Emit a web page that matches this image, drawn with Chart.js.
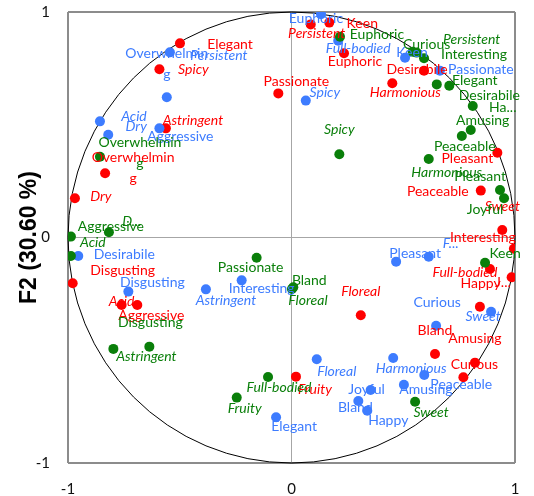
<!DOCTYPE html>
<html>
<head>
<meta charset="utf-8">
<script src="https://cdn.jsdelivr.net/npm/chart.js@4"></script>
<style>
  body { margin: 0; background: #fff; }
  #wrap { width: 534px; height: 496px; }
</style>
</head>
<body>
<div id="wrap"><canvas id="circleChart" width="534" height="496"></canvas></div>
<script>
// Attributes, same order for every group
const attributes = [
  "Overwhelming", "Elegant", "Persistent", "Spicy", "Acid", "Dry", "Astringent",
  "Aggressive", "Passionate", "Euphoric", "Keen", "Full-bodied", "Curious",
  "Interesting", "Desirabile", "Harmonious", "Amusing", "Peaceable", "Pleasant",
  "Joyful", "Sweet", "Happy", "Floreal", "Fruity", "Bland", "Disgusting",
];

// Sensory attributes are labelled in italics
const sensory = ["Persistent", "Spicy", "Acid", "Dry", "Astringent", "Full-bodied",
  "Harmonious", "Sweet", "Floreal", "Fruity"];

const redF1 = [-0.834, -0.499, 0.086, -0.591, -0.76, -0.969, -0.562, -0.69, -0.059, 0.235, 0.169, 0.888, 0.769,
  0.995, 0.593, 0.451, 0.821, 0.847, 0.921, 0.843, 0.943, 0.985, 0.31, 0.02, 0.642, -0.979];
const redF2 = [0.285, 0.861, 0.945, 0.746, -0.299, 0.174, 0.484, -0.299, 0.639, 0.817, 0.953, -0.14, -0.62,
  -0.05, 0.74, 0.684, -0.555, 0.208, 0.376, -0.307, 0.033, -0.176, -0.345, -0.617, -0.517, -0.203];

const blueF1 = [-0.558, -0.069, -0.544, 0.064, -0.857, -0.82, -0.383, -0.591, 0.664, 0.132, 0.508, 0.209, 0.647,
  -0.223, -0.954, 0.455, 0.503, 0.594, 0.468, 0.354, 0.893, 0.339, 0.113, 0.614, 0.299, -0.73];
const blueF2 = [0.622, -0.797, 0.821, 0.607, 0.515, 0.456, -0.23, 0.484, 0.74, 0.99, 0.797, 0.873, -0.391,
  -0.19, -0.082, -0.534, -0.653, -0.61, -0.107, -0.676, -0.329, -0.768, -0.54, -0.085, -0.725, -0.24];

const greenF1 = [-0.857, 0.65, 0.56, 0.214, -0.987, -0.817, -0.797, -0.987, -0.156, 0.217, 0.866, -0.105, 0.542,
  0.593, 0.706, 0.614, 0.802, 0.762, 0.933, 0.951, 0.553, 0.811, 0.002, -0.245, 0.008, -0.636];
const greenF2 = [0.358, 0.679, 0.82, 0.369, -0.082, 0.023, -0.494, 0.004, -0.09, 0.89, -0.112, -0.619, 0.824,
  0.795, 0.673, 0.348, 0.477, 0.45, 0.211, 0.174, -0.728, 0.583, -0.228, -0.71, -0.221, -0.484];

const axisTicks = [-1, 0, 1];
const yTitle = "F2 (30.60 %)";

// Labels that show truncated in the chart
const shortNames = {
  red: { Joyful: "J..." },
  blue: { Fruity: "F..." },
  green: { Dry: "D...", Happy: "Ha..." },
};

// Label offsets from the point, in pixels [dx, dy]
const labelOffsets = {
  red: [[28, -16], [50, 1], [6, 9], [34, 0], [0, -3], [26, -2], [27, -8], [14, 11], [18, -12], [11, 8], [33, 1],
    [-25, 3], [11, -13], [-31, -11], [-7, -1], [13, 9], [0, -24], [-43, 1], [-30, 6], [23, -24], [0, -24],
    [-31, 6], [0, -24], [19, 13], [0, -24], [50, -13]],
  blue: [[0, -44], [18, 9], [49, 3], [19, -8], [34, -5], [28, -8], [20, 11], [21, 8], [41, -1], [-5, 4], [7, -5],
    [20, 8], [1, -23], [20, 8], [46, -2], [18, 11], [22, 5], [37, 9], [19, -8], [-4, 0], [-8, 5], [21, 10],
    [20, 12], [22, -13], [-3, 6], [24, -9]],
  green: [[40, -14], [38, -4], [55, -13], [0, -25], [22, -14], [23, -11], [33, 8], [40, -10], [-6, 10], [37, -2],
    [20, -9], [11, 10], [14, -7], [50, -4], [40, 10], [18, 13], [12, -9], [3, 10], [-20, -13], [-19, 11],
    [16, 11], [30, 1], [16, 12], [8, 11], [16, -7], [1, -24]],
};

const colors = { red: "#ff0000", blue: "#3d7cff", green: "#0a7f0a" };

function toPoints(xs, ys) {
  return xs.map((x, i) => ({ x: x, y: ys[i] }));
}

// Correlation circle of radius 1
const circlePlugin = {
  id: "circle",
  beforeDatasetsDraw(chart) {
    const { ctx, scales } = chart;
    const cx = scales.x.getPixelForValue(0);
    const cy = scales.y.getPixelForValue(0);
    const rx = scales.x.getPixelForValue(1) - cx;
    const ry = cy - scales.y.getPixelForValue(1);
    ctx.save();
    ctx.beginPath();
    ctx.ellipse(cx, cy, rx, ry, 0, 0, Math.PI * 2);
    ctx.strokeStyle = "#000";
    ctx.lineWidth = 1;
    ctx.stroke();
    ctx.restore();
  },
};

// Point labels
const labelPlugin = {
  id: "pointLabels",
  afterDatasetsDraw(chart) {
    const ctx = chart.ctx;
    ctx.save();
    ctx.textAlign = "center";
    ctx.textBaseline = "middle";
    chart.data.datasets.forEach((ds, di) => {
      const key = ds.key;
      const meta = chart.getDatasetMeta(di);
      meta.data.forEach((pt, i) => {
        const name = attributes[i];
        let text = (shortNames[key] && shortNames[key][name]) || name;
        const italic = sensory.includes(name);
        ctx.font = (italic ? "italic " : "") + "14px Lato";
        ctx.fillStyle = ds.backgroundColor;
        const off = labelOffsets[key][i];
        const x = pt.x + off[0];
        const y = pt.y + off[1];
        if (text === "Overwhelming") {
          ctx.fillText("Overwhelmin", x, y);
          ctx.fillText("g", x, y + 21);
        } else {
          ctx.fillText(text, x, y);
        }
      });
    });
    ctx.restore();
  },
};

function gridWidth(context) {
  return context.tick && context.tick.value === 0 ? 1 : 2;
}
function gridColor(context) {
  return context.tick && context.tick.value === 0 ? "#a6a6a6" : "#8c8c8c";
}

document.addEventListener("DOMContentLoaded", function () {
  const ctx = document.getElementById("circleChart");

  new Chart(ctx, {
    type: "scatter",
    data: {
      datasets: [
        { key: "red", data: toPoints(redF1, redF2), backgroundColor: colors.red, order: 2 },
        { key: "blue", data: toPoints(blueF1, blueF2), backgroundColor: colors.blue, order: 1 },
        { key: "green", data: toPoints(greenF1, greenF2), backgroundColor: colors.green, order: 0 },
      ],
    },
    options: {
      responsive: false,
      animation: false,
      layout: { padding: { top: 12, right: 19, left: 0, bottom: 0 } },
      elements: { point: { radius: 5, borderWidth: 0, hoverRadius: 5 } },
      plugins: { legend: { display: false }, tooltip: { enabled: false } },
      scales: {
        x: {
          min: -1,
          max: 1,
          afterBuildTicks: (scale) => { scale.ticks = axisTicks.map((v) => ({ value: v })); },
          afterFit: (scale) => { scale.height = 33; },
          border: { display: false },
          grid: { tickLength: 15, tickColor: "transparent", color: gridColor, lineWidth: gridWidth },
          ticks: { padding: 2, color: "#111", font: { family: "Lato", size: 15 } },
        },
        y: {
          min: -1,
          max: 1,
          afterBuildTicks: (scale) => { scale.ticks = axisTicks.map((v) => ({ value: v })); },
          afterFit: (scale) => { scale.width = 68; },
          border: { display: false },
          grid: { tickLength: 16, tickColor: "transparent", color: gridColor, lineWidth: gridWidth },
          ticks: { padding: 2, color: "#111", font: { family: "Lato", size: 15 } },
          title: {
            display: true,
            text: yTitle,
            color: "#000",
            padding: { top: 16, bottom: 0 },
            font: { family: "Liberation Sans", size: 23, weight: "bold" },
          },
        },
      },
    },
    plugins: [circlePlugin, labelPlugin],
  });
});
</script>
</body>
</html>
